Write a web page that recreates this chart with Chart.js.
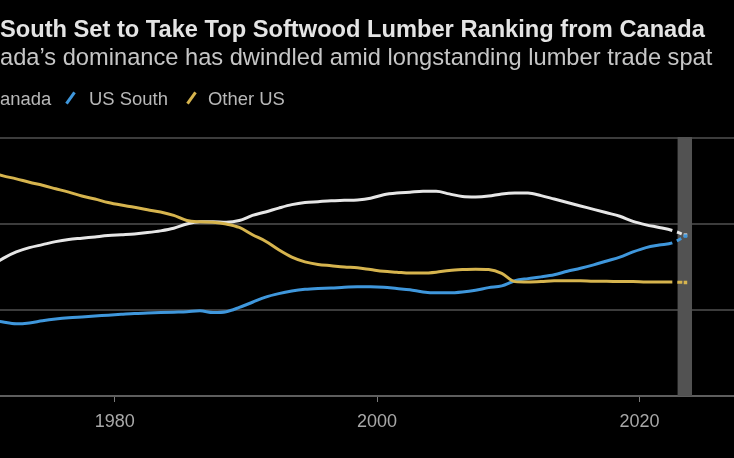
<!DOCTYPE html>
<html>
<head>
<meta charset="utf-8">
<script src="https://cdn.jsdelivr.net/npm/chart.js@4/dist/chart.umd.min.js"></script>
<style>
  html,body{margin:0;padding:0;background:#000;width:734px;height:458px;overflow:hidden;}
  #wrap{position:relative;width:734px;height:458px;}
  canvas#c{position:absolute;left:0;top:0;}
  .txt{position:absolute;left:0;white-space:nowrap;line-height:1;font-family:"Liberation Sans",Arial,sans-serif;}
  #title{font-weight:bold;color:#e4e4e4;}
  #subtitle{color:#c6c6c6;}
  #legend{position:absolute;left:0;top:89px;height:20px;font-family:"Liberation Sans",Arial,sans-serif;color:#b8b8b8;}
  #legend span.t{position:absolute;white-space:nowrap;line-height:1;}
  #legend span.m{position:absolute;width:3px;height:14px;transform:rotate(35deg);}
</style>
</head>
<body>
<div id="wrap">
  <canvas id="c" width="734" height="458"></canvas>
  <div id="title" class="txt"></div>
  <div id="subtitle" class="txt"></div>
  <div id="legend"></div>
</div>
<script>
// ---- Data (share of North American softwood lumber production, %) ----
const years = [1970,1971,1972,1973,1974,1975,1976,1977,1978,1979,
               1980,1981,1982,1983,1984,1985,1986,1987,1988,1989,
               1990,1991,1992,1993,1994,1995,1996,1997,1998,1999,
               2000,2001,2002,2003,2004,2005,2006,2007,2008,2009,
               2010,2011,2012,2013,2014,2015,2016,2017,2018,2019,
               2020,2021,2022,2023];
const canada = [30.0,32.0,33.5,34.5,35.2,35.9,36.4,36.7,37.0,37.3,
                37.5,37.7,38.0,38.4,39.0,40.0,40.5,40.5,40.4,40.8,
                42.0,42.8,43.7,44.5,45.0,45.2,45.4,45.5,45.6,46.0,
                46.8,47.2,47.4,47.6,47.6,47.0,46.4,46.3,46.5,47.0,
                47.2,47.2,46.6,45.8,45.0,44.2,43.4,42.6,41.8,40.6,
                39.8,39.2,38.5,37.4];
const usSouth = [17.8,17.2,16.8,17.0,17.5,17.9,18.2,18.4,18.6,18.8,
                 19.0,19.2,19.3,19.4,19.5,19.6,19.8,19.4,19.6,20.6,
                 21.8,23.0,23.8,24.4,24.8,25.0,25.1,25.3,25.4,25.4,
                 25.3,25.0,24.7,24.2,24.0,24.0,24.2,24.6,25.2,25.6,
                 26.8,27.3,27.7,28.2,29.0,29.7,30.5,31.4,32.3,33.5,
                 34.5,35.1,35.6,37.2];
const otherUS = [52.0,51.2,50.5,49.7,49.0,48.2,47.4,46.5,45.8,45.0,
                 44.4,43.9,43.3,42.8,42.0,40.8,40.5,40.4,40.0,39.2,
                 37.5,36.0,34.0,32.3,31.2,30.6,30.3,30.0,29.8,29.4,
                 29.0,28.8,28.6,28.6,28.8,29.2,29.4,29.5,29.4,28.5,
                 26.6,26.5,26.6,26.8,26.8,26.8,26.7,26.7,26.6,26.6,
                 26.5,26.5,26.5,26.4];
const seriesNames = ["Canada","US South","Other US"];
const xTickValues = [1980,2000,2020];
const yTickValues = [0,20,40,60];
const forecastBand = [2022.9, 2024.0];

const titleText = "South Set to Take Top Softwood Lumber Ranking from Canada";
const subtitleText = "ada\u2019s dominance has dwindled amid longstanding lumber trade spat";
const legendTexts = ["anada","US South","Other US"];

// ---- Styles ----
const colors = ["#e6e6e6","#3f97dc","#d6b44e"];
const FONT = '"Liberation Sans", Arial, sans-serif';

// ---- Text fitting ----
const mctx = document.createElement('canvas').getContext('2d');
function fitSize(text, width, weight){
  mctx.font = weight + ' 100px ' + FONT;
  return 100 * width / mctx.measureText(text).width;
}
const tEl = document.getElementById('title');
tEl.textContent = titleText;
const ts = fitSize(titleText, 705, 'bold');
tEl.style.fontSize = ts + 'px'; tEl.style.top = (30 - ts/2) + 'px';

const sEl = document.getElementById('subtitle');
sEl.textContent = subtitleText;
const ss = fitSize(subtitleText, 713, 'normal');
sEl.style.fontSize = ss + 'px'; sEl.style.top = (58 - ss/2) + 'px';

// legend
const lg = document.getElementById('legend');
const ls = fitSize("US South", 79, 'normal');
const legendLayout = [{tx:0, mx:null},{tx:89, mx:69},{tx:208, mx:190}];
legendTexts.forEach((t,i)=>{
  const L = legendLayout[i];
  if (L.mx !== null){
    const m = document.createElement('span'); m.className='m';
    m.style.left = L.mx + 'px'; m.style.top = '2px'; m.style.background = colors[i];
    lg.appendChild(m);
  }
  const s = document.createElement('span'); s.className='t'; s.textContent = t;
  s.style.left = L.tx + 'px'; s.style.fontSize = ls + 'px'; s.style.top = (9 - ls/2 + 1) + 'px';
  lg.appendChild(s);
});

// ---- Chart ----
const xs = years.map(y => y + 0.5);
function mk(arr){ return arr.map((v,i)=>({x:xs[i], y:v})); }
const lastIdx = years.length - 1;

const bandPlugin = {
  id:'band',
  beforeDatasetsDraw(chart){
    const {ctx, chartArea, scales:{x}} = chart;
    const x0 = x.getPixelForValue(forecastBand[0]);
    const x1 = x.getPixelForValue(forecastBand[1]);
    ctx.save();
    ctx.fillStyle = '#525252';
    ctx.fillRect(x0, chartArea.top - 1, x1 - x0, chartArea.bottom - chartArea.top + 1);
    ctx.restore();
  }
};

function ds(label, arr, color){
  return {
    label, data: mk(arr), borderColor: color, backgroundColor: color,
    borderWidth: 3, cubicInterpolationMode: 'monotone',
    borderCapStyle: 'butt',
    pointStyle: 'rect',
    pointRadius: c => (c.dataIndex === lastIdx ? 2.5 : 0),
    pointBorderWidth: 0,
    segment: {
      borderDash: c => (c.p1DataIndex === lastIdx ? [5,5] : undefined),
      borderDashOffset: c => (c.p1DataIndex === lastIdx ? 5 : 0)
    }
  };
}

new Chart(document.getElementById('c'), {
  type: 'line',
  data: { datasets: [
    ds(seriesNames[2], otherUS, colors[2]),
    ds(seriesNames[1], usSouth, colors[1]),
    ds(seriesNames[0], canada, colors[0])
  ]},
  plugins: [bandPlugin],
  options: {
    responsive: false, animation: false,
    layout: { autoPadding: false, padding: { top: 138, left: 0, right: 0, bottom: 0 } },
    plugins: { legend: { display: false }, tooltip: { enabled: false }, title: {display:false} },
    scales: {
      x: {
        type: 'linear', min: 1971.26, max: 2027.2,
        afterBuildTicks: s => { s.ticks = xTickValues.map(v => ({value: v})); },
        afterFit: s => { s.height = 62; },
        grid: { drawOnChartArea: false, drawTicks: true, tickLength: 6, color: '#7a7a7a', lineWidth: 1 },
        border: { display: true, color: '#5e5e5e', width: 2 },
        ticks: { color: '#a8a8a8', font: { family: FONT, size: 18 }, padding: 9, maxRotation: 0,
                 callback: v => String(v) }
      },
      y: {
        min: 0, max: 60,
        afterBuildTicks: s => { s.ticks = yTickValues.map(v => ({value: v})); },
        afterFit: s => { s.width = 0; },
        grid: { color: '#3c3c3c', lineWidth: 2, drawTicks: false },
        border: { display: false },
        ticks: { display: false }
      }
    }
  }
});
</script>
</body>
</html>
